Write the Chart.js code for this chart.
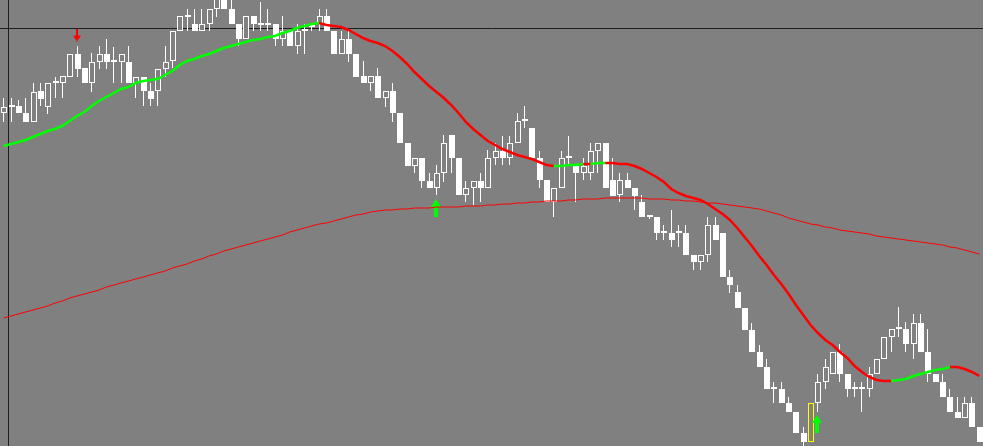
<!DOCTYPE html>
<html>
<head>
<meta charset="utf-8">
<title>Candles</title>
<script src="https://cdn.jsdelivr.net/npm/chart.js@4.4.1/dist/chart.umd.min.js"></script>
<style>
  html, body { margin: 0; padding: 0; background: #808080; overflow: hidden; }
  .chart-container { position: relative; width: 983px; height: 446px; }
</style>
</head>
<body>
<div class="chart-container"><canvas id="priceChart"></canvas></div>
<script>
// OHLC, one value per bar
const opens = [
  1.2387,1.2393,1.2394,1.2387,1.2378,1.2409,1.2393,1.2417,1.2417,1.2423,
  1.2446,1.2432,1.2417,1.2438,1.2446,1.2438,1.2438,1.2438,1.2417,1.2423,
  1.2409,1.2409,1.2431,1.2439,1.2469,1.2483,1.2476,1.2469,1.2476,1.2491,
  1.2503,1.2491,1.2476,1.2461,1.2484,1.2475,1.2475,1.2476,1.2461,1.2469,
  1.2454,1.2469,1.2473,1.2476,1.2484,1.2469,1.2446,1.2461,1.2446,1.2424,
  1.2417,1.2424,1.2402,1.2409,1.2387,1.2357,1.2334,1.2342,1.2319,1.2312,
  1.2327,1.2365,1.2342,1.2305,1.2312,1.2319,1.2312,1.2342,1.2349,1.2342,
  1.2357,1.2379,1.2372,1.2342,1.2320,1.2298,1.2312,1.2342,1.2334,1.2327,
  1.2327,1.2349,1.2357,1.2320,1.2305,1.2320,1.2312,1.2298,1.2283,1.2283,
  1.2267,1.2267,1.2267,1.2267,1.2245,1.2238,1.2245,1.2275,1.2267,1.2223,
  1.2208,1.2192,1.2170,1.2148,1.2133,1.2111,1.2111,1.2097,1.2088,1.2067,
  1.2058,1.2097,1.2118,1.2126,1.2148,1.2126,1.2111,1.2111,1.2111,1.2126,
  1.2141,1.2163,1.2171,1.2171,1.2156,1.2177,1.2148,1.2126,1.2118,1.2103,
  1.2088,1.2082,1.2097,1.2073
];
const highs = [
  1.2402,1.2402,1.2400,1.2402,1.2417,1.2417,1.2417,1.2423,1.2424,1.2446,
  1.2454,1.2432,1.2447,1.2454,1.2461,1.2453,1.2446,1.2454,1.2423,1.2423,
  1.2417,1.2431,1.2454,1.2469,1.2484,1.2491,1.2491,1.2491,1.2491,1.2508,
  1.2510,1.2505,1.2476,1.2484,1.2484,1.2498,1.2491,1.2476,1.2484,1.2469,
  1.2476,1.2476,1.2476,1.2491,1.2491,1.2469,1.2469,1.2469,1.2446,1.2439,
  1.2424,1.2432,1.2409,1.2417,1.2387,1.2357,1.2342,1.2342,1.2327,1.2335,
  1.2365,1.2365,1.2342,1.2319,1.2319,1.2327,1.2350,1.2357,1.2364,1.2364,
  1.2387,1.2394,1.2372,1.2349,1.2320,1.2312,1.2349,1.2364,1.2334,1.2342,
  1.2357,1.2357,1.2357,1.2342,1.2327,1.2327,1.2312,1.2305,1.2285,1.2283,
  1.2275,1.2290,1.2275,1.2275,1.2245,1.2245,1.2283,1.2283,1.2267,1.2230,
  1.2215,1.2192,1.2177,1.2155,1.2141,1.2118,1.2118,1.2103,1.2088,1.2073,
  1.2097,1.2126,1.2141,1.2148,1.2156,1.2126,1.2118,1.2118,1.2133,1.2141,
  1.2163,1.2171,1.2193,1.2178,1.2186,1.2186,1.2171,1.2126,1.2126,1.2111,
  1.2103,1.2103,1.2103,1.2073
];
const lows = [
  1.2378,1.2378,1.2387,1.2378,1.2378,1.2394,1.2386,1.2402,1.2402,1.2423,
  1.2423,1.2417,1.2408,1.2431,1.2431,1.2417,1.2417,1.2417,1.2402,1.2394,
  1.2394,1.2394,1.2423,1.2432,1.2469,1.2469,1.2469,1.2469,1.2469,1.2483,
  1.2491,1.2476,1.2454,1.2461,1.2469,1.2469,1.2469,1.2454,1.2454,1.2454,
  1.2446,1.2446,1.2469,1.2469,1.2469,1.2446,1.2446,1.2438,1.2423,1.2417,
  1.2409,1.2402,1.2393,1.2378,1.2357,1.2334,1.2327,1.2312,1.2312,1.2305,
  1.2318,1.2327,1.2305,1.2298,1.2295,1.2298,1.2312,1.2335,1.2335,1.2335,
  1.2357,1.2372,1.2342,1.2312,1.2298,1.2283,1.2312,1.2334,1.2298,1.2320,
  1.2320,1.2327,1.2312,1.2304,1.2298,1.2312,1.2290,1.2283,1.2281,1.2260,
  1.2260,1.2253,1.2253,1.2245,1.2230,1.2230,1.2238,1.2260,1.2223,1.2207,
  1.2192,1.2170,1.2148,1.2133,1.2111,1.2097,1.2097,1.2088,1.2067,1.2054,
  1.2058,1.2088,1.2111,1.2126,1.2118,1.2103,1.2103,1.2088,1.2103,1.2126,
  1.2141,1.2148,1.2163,1.2148,1.2141,1.2148,1.2118,1.2118,1.2103,1.2088,
  1.2082,1.2082,1.2073,1.2058
];
const closes = [
  1.2393,1.2393,1.2387,1.2378,1.2408,1.2401,1.2417,1.2417,1.2424,1.2446,
  1.2431,1.2417,1.2438,1.2446,1.2438,1.2438,1.2446,1.2417,1.2423,1.2409,
  1.2401,1.2431,1.2438,1.2469,1.2484,1.2483,1.2469,1.2476,1.2491,1.2502,
  1.2491,1.2476,1.2461,1.2484,1.2476,1.2475,1.2475,1.2461,1.2469,1.2454,
  1.2469,1.2469,1.2473,1.2484,1.2469,1.2446,1.2461,1.2446,1.2423,1.2417,
  1.2424,1.2402,1.2409,1.2387,1.2357,1.2334,1.2342,1.2319,1.2312,1.2327,
  1.2357,1.2342,1.2305,1.2312,1.2319,1.2312,1.2342,1.2349,1.2342,1.2357,
  1.2379,1.2379,1.2342,1.2320,1.2298,1.2312,1.2342,1.2342,1.2327,1.2334,
  1.2349,1.2357,1.2312,1.2304,1.2320,1.2312,1.2304,1.2283,1.2283,1.2267,
  1.2267,1.2260,1.2267,1.2245,1.2238,1.2245,1.2275,1.2260,1.2223,1.2215,
  1.2192,1.2170,1.2148,1.2133,1.2111,1.2111,1.2097,1.2088,1.2067,1.2058,
  1.2097,1.2118,1.2133,1.2148,1.2126,1.2111,1.2111,1.2111,1.2126,1.2141,
  1.2163,1.2171,1.2171,1.2156,1.2177,1.2148,1.2126,1.2118,1.2103,1.2088,
  1.2082,1.2097,1.2073,1.2058
];

// fast moving average (thick, two-coloured)
const maFast = [
  1.2354,1.2356,1.2358,1.2360,1.2363,1.2366,1.2369,1.2371,1.2374,1.2379,
  1.2384,1.2388,1.2394,1.2399,1.2403,1.2407,1.2411,1.2413,1.2417,1.2419,
  1.2420,1.2421,1.2425,1.2429,1.2435,1.2439,1.2441,1.2444,1.2446,1.2449,
  1.2452,1.2454,1.2456,1.2458,1.2460,1.2461,1.2463,1.2464,1.2467,1.2469,
  1.2472,1.2474,1.2476,1.2477,1.2475,1.2474,1.2473,1.2470,1.2466,1.2462,
  1.2459,1.2457,1.2454,1.2449,1.2443,1.2436,1.2428,1.2421,1.2414,1.2408,
  1.2402,1.2395,1.2387,1.2378,1.2371,1.2365,1.2359,1.2355,1.2351,1.2348,
  1.2345,1.2343,1.2341,1.2338,1.2335,1.2334,1.2334,1.2335,1.2335,1.2336,
  1.2336,1.2337,1.2337,1.2337,1.2336,1.2336,1.2334,1.2331,1.2327,1.2323,
  1.2318,1.2311,1.2307,1.2304,1.2302,1.2300,1.2296,1.2291,1.2286,1.2280,
  1.2272,1.2263,1.2254,1.2244,1.2235,1.2225,1.2216,1.2206,1.2195,1.2185,
  1.2175,1.2167,1.2160,1.2155,1.2148,1.2142,1.2134,1.2128,1.2123,1.2120,
  1.2119,1.2119,1.2120,1.2121,1.2124,1.2126,1.2128,1.2130,1.2131,1.2133,
  1.2133,1.2131,1.2128,1.2124
];
// bar ranges where the fast MA is drawn green (rising)
const greenRanges = [[0, 43], [76, 79], [81, 82], [122, 129]];

// slow moving average (thin red)
const maSlow = [
  1.2182,1.2184,1.2186,1.2188,1.2190,1.2192,1.2194,1.2197,1.2199,1.2202,
  1.2204,1.2206,1.2208,1.2210,1.2213,1.2215,1.2217,1.2219,1.2221,1.2223,
  1.2225,1.2227,1.2229,1.2232,1.2234,1.2236,1.2239,1.2241,1.2244,1.2246,
  1.2249,1.2251,1.2253,1.2255,1.2257,1.2259,1.2261,1.2263,1.2265,1.2268,
  1.2270,1.2272,1.2274,1.2276,1.2277,1.2279,1.2281,1.2283,1.2285,1.2286,
  1.2288,1.2289,1.2290,1.2290,1.2291,1.2291,1.2292,1.2292,1.2292,1.2293,
  1.2293,1.2293,1.2293,1.2294,1.2294,1.2294,1.2295,1.2295,1.2296,1.2296,
  1.2297,1.2297,1.2298,1.2298,1.2299,1.2299,1.2299,1.2300,1.2300,1.2301,
  1.2301,1.2301,1.2302,1.2302,1.2302,1.2302,1.2302,1.2302,1.2301,1.2301,
  1.2301,1.2300,1.2300,1.2299,1.2299,1.2298,1.2297,1.2297,1.2296,1.2295,
  1.2294,1.2293,1.2292,1.2291,1.2289,1.2287,1.2285,1.2282,1.2280,1.2278,
  1.2276,1.2275,1.2273,1.2272,1.2270,1.2269,1.2268,1.2267,1.2266,1.2264,
  1.2263,1.2262,1.2261,1.2260,1.2259,1.2258,1.2257,1.2256,1.2255,1.2253,
  1.2252,1.2250,1.2248,1.2246
];

// signal arrows
const buyBars = [59, 111];
const buyPrices = [1.2292, 1.2076];
const sellBars = [10];
const sellPrices = [1.2465];

const highlightBar = 110;      // candle outlined in yellow
const bidPrice = 1.2472;       // black horizontal price line
const crossBar = 0.63;         // black vertical line

const priceTop = 1.2500;
const priceBottom = 1.2054;

const bars = opens.map((_, i) => i);

const isBull = (i) => closes[i] > opens[i];
const isGreen = (i) => greenRanges.some(([a, b]) => i >= a && i <= b);
const edgeColor = (i) => (i === highlightBar ? "#ffff00" : "#ffffff");

function makeArrow(color, w, h, headH, shaftW, up) {
  const c = document.createElement("canvas");
  c.width = w;
  c.height = h;
  const g = c.getContext("2d");
  g.fillStyle = color;
  g.beginPath();
  if (up) {
    g.moveTo(w / 2, 0);
    g.lineTo(w, headH);
    g.lineTo(0, headH);
    g.closePath();
    g.fill();
    g.fillRect((w - shaftW) / 2, headH, shaftW, h - headH);
  } else {
    g.fillRect((w - shaftW) / 2, 0, shaftW, h - headH);
    g.moveTo(0, h - headH);
    g.lineTo(w, h - headH);
    g.lineTo(w / 2, h);
    g.closePath();
    g.fill();
  }
  return c;
}

const upArrow = makeArrow("#00ff00", 10, 18, 8, 4, true);
const downArrow = makeArrow("#ff0000", 8, 13, 6, 2, false);

// background, the two black lines, and pixel snapping of candles/arrows
const chartLines = {
  id: "chartLines",
  beforeDraw(chart) {
    const { ctx, width, height } = chart;
    ctx.save();
    ctx.fillStyle = "#808080";
    ctx.fillRect(0, 0, width, height);
    ctx.restore();
  },
  afterDatasetsUpdate(chart) {
    chart.data.datasets.forEach((ds, di) => {
      const meta = chart.getDatasetMeta(di);
      if (ds.label === "wicks") {
        meta.data.forEach((el) => { el.x = Math.floor(el.x) + 0.5; });
      } else if (ds.label === "bodies") {
        meta.data.forEach((el) => { el.x = Math.floor(el.x) + 1; });
      } else if (ds.showLine === false) {
        meta.data.forEach((el) => { el.x = Math.floor(el.x); });
      }
    });
  },
  beforeDatasetsDraw(chart) {
    const { ctx, chartArea, scales } = chart;
    const y = Math.round(scales.y.getPixelForValue(bidPrice)) + 0.5;
    const x = Math.round(scales.x.getPixelForValue(crossBar)) + 0.5;
    ctx.save();
    ctx.strokeStyle = "#1e1e1e";
    ctx.lineWidth = 1;
    ctx.beginPath();
    ctx.moveTo(chartArea.left, y);
    ctx.lineTo(chartArea.right, y);
    ctx.moveTo(x, chartArea.top);
    ctx.lineTo(x, chartArea.bottom);
    ctx.stroke();
    ctx.restore();
  },
};

new Chart(document.getElementById("priceChart").getContext("2d"), {
  type: "bar",
  data: {
    labels: bars,
    datasets: [
      {
        label: "wicks",
        data: bars.map((i) => [lows[i], highs[i]]),
        backgroundColor: bars.map(edgeColor),
        borderWidth: 0,
        barThickness: 1,
        inflateAmount: 0,
        grouped: false,
        order: 5,
      },
      {
        label: "bodies",
        data: bars.map((i) => [opens[i], closes[i]]),
        backgroundColor: bars.map((i) => (isBull(i) ? "#808080" : "#ffffff")),
        borderColor: bars.map(edgeColor),
        borderWidth: 1,
        borderSkipped: false,
        barThickness: 6,
        inflateAmount: 0,
        minBarLength: 2,
        grouped: false,
        order: 4,
      },
      {
        type: "line",
        label: "buy",
        data: bars.map((i) => (buyBars.includes(i) ? buyPrices[buyBars.indexOf(i)] : null)),
        showLine: false,
        pointStyle: upArrow,
        pointRadius: 5,
        order: 3,
      },
      {
        type: "line",
        label: "sell",
        data: bars.map((i) => (sellBars.includes(i) ? sellPrices[sellBars.indexOf(i)] : null)),
        showLine: false,
        pointStyle: downArrow,
        pointRadius: 5,
        order: 3,
      },
      {
        type: "line",
        label: "slow MA",
        data: maSlow,
        borderColor: "#ff0000",
        borderWidth: 1,
        pointRadius: 0,
        tension: 0,
        order: 2,
      },
      {
        type: "line",
        label: "fast MA",
        data: maFast,
        borderColor: "#ff0000",
        borderWidth: 2.5,
        pointRadius: 0,
        tension: 0,
        segment: {
          borderColor: (ctx) => (isGreen(ctx.p1DataIndex) ? "#00ff00" : "#ff0000"),
        },
        order: 1,
      },
    ],
  },
  options: {
    responsive: true,
    maintainAspectRatio: false,
    animation: false,
    events: [],
    layout: { padding: 0, autoPadding: false },
    plugins: {
      legend: { display: false },
      tooltip: { enabled: false },
    },
    scales: {
      x: { type: "category", offset: true, display: false, grid: { display: false } },
      y: { min: priceBottom, max: priceTop, display: false, grid: { display: false } },
    },
  },
  plugins: [chartLines],
});
</script>
</body>
</html>
